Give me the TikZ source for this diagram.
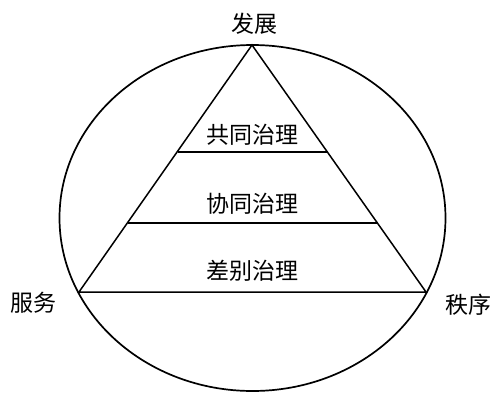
\documentclass[tikz,border=0pt]{standalone}
\usepackage{fontspec}
\usetikzlibrary{shapes.geometric}
\newfontfamily\cjk{Noto Sans CJK SC}
\begin{document}
\begin{tikzpicture}[x=1pt,y=-1pt,
  lbl/.style={font=\cjk\fontsize{23}{23}\selectfont, inner sep=0pt, anchor=center},
  ln/.style={line width=1.5pt, black}]
\useasboundingbox (0,0) rectangle (493,394);
\node[draw, ln, line width=1.7pt, ellipse, minimum width=386pt, minimum height=346pt, inner sep=0pt] (e) at (252.5,218) {};
\coordinate (A) at (252,45);
\coordinate (L) at (79,292);
\coordinate (R) at (426,292);
\coordinate (L1) at (177.5,152);
\coordinate (R1) at (326.5,152);
\coordinate (L2) at (128,223);
\coordinate (R2) at (377,223);
\draw[ln, line join=miter] (A) -- (L) -- (R) -- cycle;
\draw[ln] (L1) -- (R1);
\draw[ln] (L2) -- (R2);
\node[lbl] (t1) at (252,135) {共同治理};
\node[lbl] (t2) at (252,204) {协同治理};
\node[lbl] (t3) at (252,271) {差别治理};
\node[lbl] (top) at (254,24) {发展};
\node[lbl] (lft) at (33,303) {服务};
\node[lbl] (rgt) at (468,305) {秩序};
\end{tikzpicture}
\end{document}
